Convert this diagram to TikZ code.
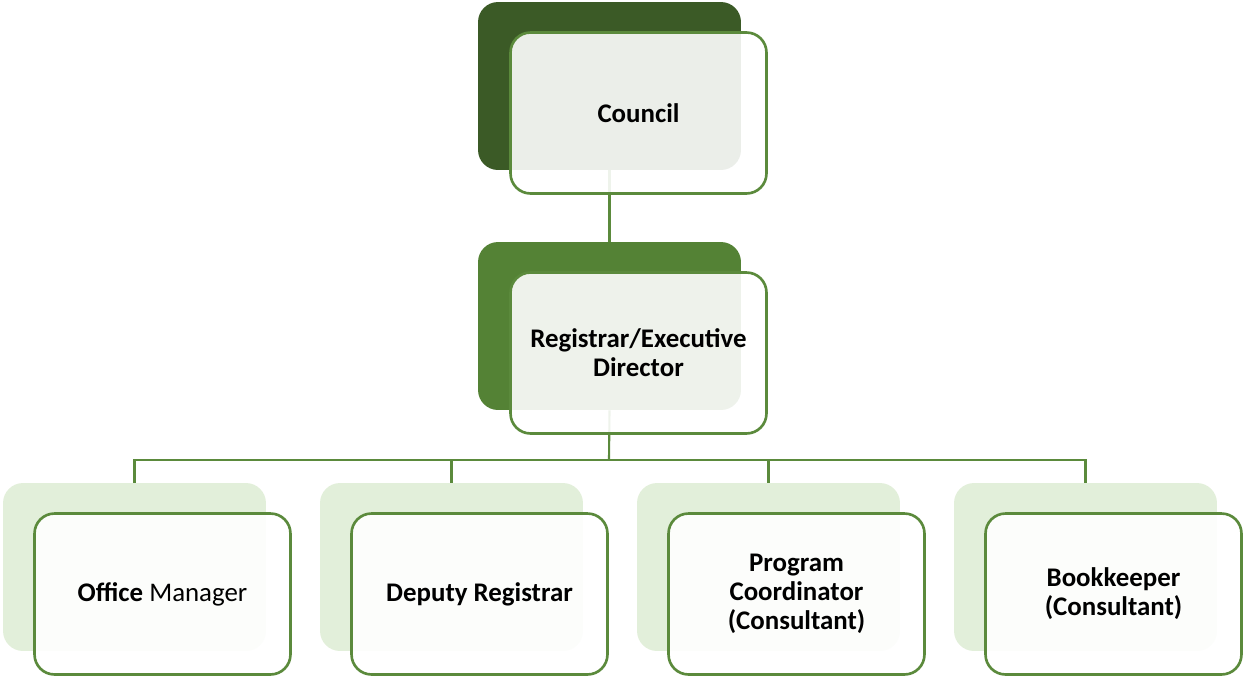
\documentclass[tikz,border=0pt]{standalone}
\usepackage{fontspec}
\setmainfont{Carlito}
\usetikzlibrary{positioning}
\definecolor{darkleaf}{HTML}{3B5A26}
\definecolor{leaf}{HTML}{548235}
\definecolor{paleleaf}{HTML}{E2EFDA}
\definecolor{edgeleaf}{HTML}{5B8A3C}
\tikzset{
  backbox/.style={rectangle, rounded corners=0.4cm, minimum width=5.26cm, minimum height=3.36cm, inner sep=0pt},
  frontbox/.style={rectangle, rounded corners=0.4cm, draw=edgeleaf, line width=1.5pt, fill=white, fill opacity=0.9, text opacity=1, minimum width=5.12cm, minimum height=3.22cm, align=center, font=\bfseries\fontsize{15.3}{16.5}\selectfont},
  link/.style={draw=edgeleaf, line width=1.2pt}
}
\begin{document}
\begin{tikzpicture}[x=0.02cm, y=-0.02cm]
\useasboundingbox (0,0) rectangle (1245,677);
% back boxes
\node[backbox, fill=darkleaf] (council-bk) at (609.5,86) {};
\node[backbox, fill=leaf] (registrar-bk) at (609.5,326) {};
\foreach \i in {0,...,3}
  \node[backbox, fill=paleleaf] (staff\i-bk) at (134.5+317*\i,567) {};
% connectors
\coordinate (bus) at (609,460);
\draw[link] (council-bk.south) -- (registrar-bk.north);
\draw[link] (registrar-bk.south) -- (bus);
\foreach \i in {0,...,3}
  \draw[link] (bus) -| (staff\i-bk.north);
% front boxes
\node[frontbox] (council) at (638.5,113) {Council};
\node[frontbox] (registrar) at (638.5,353) {Registrar/Executive\\Director};
\node[frontbox] (office) at (162.5,594) {Office \textmd{Manager}};
\node[frontbox] (deputy) at (479.5,594) {Deputy Registrar};
\node[frontbox] (program) at (796.5,594) {Program\\Coordinator\\(Consultant)};
\node[frontbox] (bookkeeper) at (1113.5,594) {Bookkeeper\\(Consultant)};
\end{tikzpicture}
\end{document}
